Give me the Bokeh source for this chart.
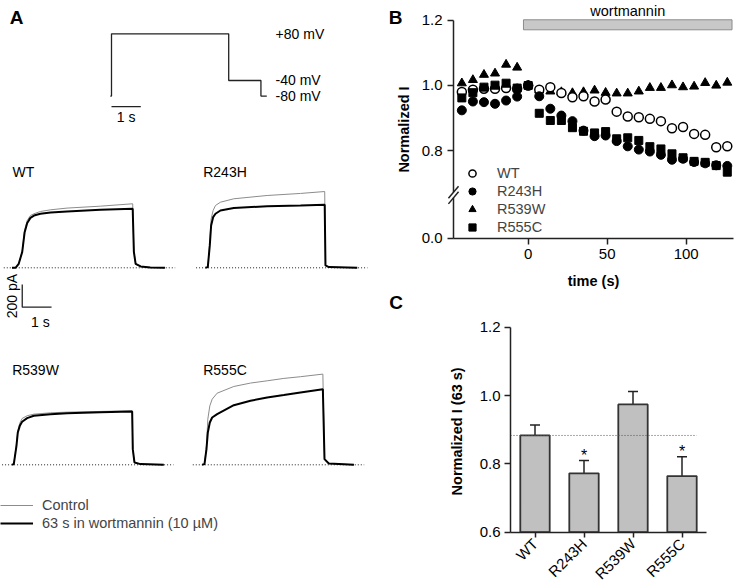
import math
from bokeh.plotting import figure
from bokeh.models import (Range1d, FixedTicker, Label, Legend, LegendItem,
                          ColumnDataSource, Whisker, TeeHead, Arrow, PrintfTickFormatter)
from bokeh.core.properties import value
from bokeh.layouts import row, column
from bokeh.embed import file_html
from bokeh.resources import INLINE

FONT = "Liberation Sans"
INK = "#222222"

# ---------------- data ----------------
# Panel A: voltage protocol (s, mV)
prot_t = [-0.04, 0.0, 0.0, 4.0, 4.0, 5.1, 5.1, 5.3]
prot_mv = [-80, -80, 80, 80, -40, -40, -80, -80]
prot_levels = [80, -40, -80]
prot_labels = ["+80 mV", "-40 mV", "-80 mV"]

# Panel A: current traces (s, pA)
baseline_t = [-0.4, 5.45]
baseline_pa = [0, 0]

wt_t = [-0.12, 0.0, 0.11, 0.23, 0.31, 0.40, 0.51, 0.63, 0.85, 1.20, 1.76, 2.90, 4.00, 4.04, 4.10, 4.27, 4.60, 5.10]
wt_ctrl = [0, 0, 35, 145, 330, 417, 461, 476, 496, 511, 526, 543, 564, 150, 35, 12, 3, 0]
wt_wort = [0, 0, 35, 140, 310, 395, 440, 460, 476, 487, 496, 511, 520, 140, 35, 12, 3, 0]

r243h_t = [-0.08, 0.0, 0.068, 0.114, 0.182, 0.262, 0.432, 0.887, 2.025, 3.163, 3.99, 4.016, 4.13, 5.10]
r243h_ctrl = [0, 6, 226, 431, 505, 549, 578, 608, 637, 655, 672, 21, 6, 0]
r243h_wort = [0, 6, 197, 373, 446, 476, 505, 526, 543, 549, 555, 21, 6, 0]

r539w_t = [-0.06, 0.0, 0.091, 0.137, 0.205, 0.284, 0.455, 0.683, 1.251, 1.82, 2.958, 4.04, 4.061, 4.118, 4.323, 5.12]
r539w_ctrl = [0, 6, 182, 299, 367, 408, 432, 446, 458, 464, 470, 476, 138, 21, 6, 0]
r539w_wort = [0, 6, 167, 285, 343, 379, 411, 432, 446, 455, 464, 470, 138, 21, 6, 0]

r555c_t = [-0.08, 0.0, 0.068, 0.114, 0.182, 0.262, 0.432, 1.001, 1.57, 2.139, 2.708, 3.276, 4.04, 4.096, 4.243, 5.10]
r555c_ctrl = [0, 6, 167, 402, 519, 578, 631, 690, 720, 740, 761, 776, 799, 50, 12, 0]
r555c_wort = [0, 6, 138, 285, 373, 417, 446, 525, 564, 593, 614, 637, 666, 50, 12, 0]

# Panel B: normalized current vs time
time_s = [-42, -35, -28, -21, -14, -7, 0, 7, 14, 21, 28, 35, 42, 49, 56, 63, 70, 77, 84, 91, 98, 105, 112, 119, 126]
norm_wt = [0.980, 0.987, 0.990, 0.990, 0.992, 0.990, 1.000, 0.987, 0.995, 0.977, 0.964, 0.967, 0.951, 0.957,
           0.920, 0.905, 0.903, 0.898, 0.891, 0.869, 0.873, 0.852, 0.849, 0.811, 0.814]
norm_r243h = [0.924, 0.951, 0.949, 0.944, 0.954, 0.966, 1.000, 0.967, 0.929, 0.908, 0.891, 0.862, 0.845, 0.847,
              0.830, 0.814, 0.804, 0.798, 0.788, 0.773, 0.776, 0.766, 0.762, 0.756, 0.754]
norm_r539w = [1.007, 1.017, 1.033, 1.037, 1.064, 1.055, 1.000, 0.985, 0.982, 0.980, 0.977, 0.980, 0.985, 0.978,
              0.976, 0.976, 0.982, 0.993, 0.993, 1.001, 0.995, 0.997, 1.008, 1.000, 1.009]
norm_r555c = [0.962, 0.978, 0.995, 1.001, 1.007, 0.992, 1.000, 0.915, 0.893, 0.893, 0.871, 0.860, 0.855, 0.859,
              0.837, 0.840, 0.832, 0.813, 0.806, 0.791, 0.779, 0.768, 0.765, 0.755, 0.735]
wort_on = -3
wort_off = 129

# Panel C: normalized current at 63 s
bar_groups = ["WT", "R243H", "R539W", "R555C"]
bar_mean = [0.883, 0.772, 0.974, 0.764]
bar_sem = [0.031, 0.038, 0.038, 0.057]
bar_sig = [False, True, False, True]


def lab(p, x, y, text, size="14px", bold=False, align="left", baseline="middle", angle=0.0,
        xr=None, yr=None, x_offset=0, y_offset=0):
    kw = {}
    if xr:
        kw["x_range_name"] = xr
    if yr:
        kw["y_range_name"] = yr
    p.add_layout(Label(x=x, y=y, text=text, text_font=FONT, text_font_size=size,
                       text_font_style="bold" if bold else "normal", text_color="black",
                       text_align=align, text_baseline=baseline, angle=angle,
                       x_offset=x_offset, y_offset=y_offset, **kw))


def no_align(p):
    if "frame_align" in p.properties():
        p.frame_align = False


# ---------------- Panel A (also holds the B / C panel letters) ----------------
pa = figure(width=412, height=587, x_range=Range1d(-3.7884, 10.273), y_range=Range1d(-1343.4, 165.6),
            x_axis_type=None, y_axis_type=None, toolbar_location=None, output_backend="svg",
            min_border=0, outline_line_color=None)
no_align(pa)
pa.extra_x_ranges = {"wt": Range1d(-0.5119, 13.5495), "r243": Range1d(-7.075, 6.9864),
                     "r539": Range1d(-0.4539, 13.6075), "r555": Range1d(-6.962, 7.0994)}
pa.extra_y_ranges = {"row1": Range1d(-2816.6, 2354.9), "row2": Range1d(-1081.0, 4090.5)}

pa.line(prot_t, prot_mv, line_color=INK, line_width=1.3)
for lvl, txt in zip(prot_levels, prot_labels):
    lab(pa, 5.6, lvl, txt, size="14px")
pa.line([0, 1], [-107, -107], line_color=INK, line_width=1.3)
lab(pa, 0.5, -133, "1 s", align="center")
lab(pa, -3.242, 121.9, "A", size="19px", bold=True, align="center")
lab(pa, 9.693, 121.9, "B", size="19px", bold=True, align="center")
lab(pa, 9.710, -610.0, "C", size="19px", bold=True, align="center")
lab(pa, 9.983, -166.0, "Normalized I", size="14.5px", bold=True, align="center", angle=math.pi / 2)

panels = [
    ("WT", "wt", "row1", wt_t, wt_ctrl, wt_wort, -0.102, 840),
    ("R243H", "r243", "row1", r243h_t, r243h_ctrl, r243h_wort, -0.157, 840),
    ("R539W", "r539", "row2", r539w_t, r539w_ctrl, r539w_wort, -0.055, 831),
    ("R555C", "r555", "row2", r555c_t, r555c_ctrl, r555c_wort, -0.044, 831),
]
legend_renderers = None
for name, xr, yr, t, c, w, lx, ly in panels:
    pa.line(baseline_t, baseline_pa, x_range_name=xr, y_range_name=yr,
            line_color=INK, line_width=1, line_dash="1 2")
    rc = pa.line(t, c, x_range_name=xr, y_range_name=yr, line_color="#8c8c8c", line_width=1)
    rw = pa.line(t, w, x_range_name=xr, y_range_name=yr, line_color="black", line_width=2)
    lab(pa, lx, ly, name, size="14px", xr=xr, yr=yr)
    if name == "R539W":
        legend_renderers = (rc, rw)

# current scale bar (200 pA, 1 s)
pa.line([0.23, 0.23, 1.23], [-147, -347, -347], x_range_name="wt", y_range_name="row1",
        line_color=INK, line_width=1.3)
lab(pa, -0.113, -250, "200 pA", align="center", angle=math.pi / 2, xr="wt", yr="row1")
lab(pa, 0.85, -479, "1 s", align="center", xr="wt", yr="row1")

leg_a = Legend(items=[LegendItem(label="Control", renderers=[legend_renderers[0]]),
                      LegendItem(label="63 s in wortmannin (10 µM)", renderers=[legend_renderers[1]])],
               location=(0, 55), glyph_width=33, glyph_height=18, label_height=18, spacing=0,
               padding=0, margin=0, label_standoff=9, border_line_color=None,
               background_fill_alpha=0, label_text_font=FONT, label_text_font_size="14.5px")
pa.add_layout(leg_a)


def style_axes(p):
    for ax in p.axis:
        ax.axis_line_color = INK
        ax.axis_line_width = 1.5
        ax.major_tick_line_color = INK
        ax.major_tick_line_width = 1.5
        ax.major_tick_out = 6
        ax.major_tick_in = 0
        ax.minor_tick_line_color = None
        ax.major_label_text_font = FONT
        ax.major_label_text_font_size = "15px"
        ax.major_label_text_color = "black"
        ax.axis_label_text_font = FONT
        ax.axis_label_text_font_size = "14.5px"
        ax.axis_label_text_font_style = "bold"
        ax.axis_label_text_color = "black"


# ---------------- Panel B ----------------
Y0_FAKE = 0.5321
B_AX = -47.28
B_XEND = 129.94
pb = figure(width=326, height=300, x_range=Range1d(-73.23, 133.10), y_range=Range1d(0.3425, 1.2599),
            toolbar_location=None, output_backend="svg", min_border=0, outline_line_color=None)
no_align(pb)
pb.grid.visible = False
style_axes(pb)
pb.xaxis.fixed_location = Y0_FAKE
pb.xaxis.ticker = FixedTicker(ticks=[0, 50, 100])
pb.xaxis.bounds = (B_AX, B_XEND)
pb.xaxis.major_label_standoff = 5
pb.yaxis.fixed_location = B_AX
pb.yaxis.ticker = FixedTicker(ticks=[Y0_FAKE, 0.8, 1.0, 1.2])
pb.yaxis.formatter = PrintfTickFormatter(format="%.1f")
pb.yaxis.major_label_overrides = {Y0_FAKE: "0.0"}
pb.yaxis.bounds = (Y0_FAKE, 1.2)
pb.yaxis.major_label_standoff = 5

pb.quad(left=[wort_on], right=[wort_off], bottom=[1.1703], top=[1.2009],
        fill_color="#c8c8c8", line_color="#8c8c8c", line_width=1)
lab(pb, (wort_on + wort_off) / 2, 1.2278, "wortmannin", size="14.5px", align="center")

r_r539 = pb.scatter(time_s, norm_r539w, marker="triangle", size=9, fill_color="black", line_color="black")
r_wt = pb.scatter(time_s, norm_wt, marker="circle", size=9, fill_color="white", line_color="black", line_width=1.5)
r_r555 = pb.scatter(time_s, norm_r555c, marker="square", size=8, fill_color="black", line_color="black")
r_r243 = pb.scatter(time_s, norm_r243h, marker="circle", size=9, fill_color="black", line_color="black")

leg_b = Legend(items=[LegendItem(label="WT", renderers=[r_wt]), LegendItem(label="R243H", renderers=[r_r243]),
                      LegendItem(label="R539W", renderers=[r_r539]), LegendItem(label="R555C", renderers=[r_r555])],
               location=(51, 64), glyph_width=18, glyph_height=18, label_height=18, spacing=0,
               padding=0, margin=0, label_standoff=16, border_line_color=None,
               background_fill_alpha=0, label_text_font=FONT, label_text_font_size="14.5px")
pb.add_layout(leg_b)

# axis break marks
brk = 0.665
gap = 0.0086
pb.add_layout(Arrow(x_start=B_AX, y_start=brk - gap, x_end=B_AX, y_end=brk + gap, start=None, end=None,
                    line_color="white", line_width=4))
for yc in (brk - gap, brk + gap):
    pb.add_layout(Arrow(x_start=B_AX - 3.2, y_start=yc - 0.0184, x_end=B_AX + 3.2, y_end=yc + 0.0184,
                        start=None, end=None, line_color=INK, line_width=1.5))

lab(pb, (B_AX + B_XEND) / 2, Y0_FAKE, "time (s)", size="14.5px", bold=True, align="center", y_offset=-43)

# ---------------- Panel C ----------------
bar_x = [i + 0.5 for i in range(len(bar_groups))]
pc = figure(width=326, height=287, x_range=Range1d(-2.0, 4.653), y_range=Range1d(0.4378, 1.2782),
            toolbar_location=None, output_backend="svg", min_border=0, outline_line_color=None)
no_align(pc)
pc.grid.visible = False
style_axes(pc)
pc.yaxis.fixed_location = 0
pc.yaxis.ticker = FixedTicker(ticks=[0.6, 0.8, 1.0, 1.2])
pc.yaxis.formatter = PrintfTickFormatter(format="%.1f")
pc.yaxis.bounds = (0.6, 1.2)
pc.yaxis.major_label_standoff = 4
pc.xaxis.fixed_location = 0.6
pc.xaxis.bounds = (0, len(bar_groups))
pc.xaxis.ticker = FixedTicker(ticks=bar_x)
pc.xaxis.major_label_overrides = {x: g for x, g in zip(bar_x, bar_groups)}
pc.xaxis.major_tick_out = 5
pc.xaxis.major_label_orientation = math.pi / 4
pc.xaxis.major_label_standoff = 4

upper = [m + s for m, s in zip(bar_mean, bar_sem)]
src = ColumnDataSource(dict(x=bar_x, mean=bar_mean, upper=upper))
pc.add_layout(Whisker(source=src, base="x", upper="upper", lower="mean", dimension="height",
                      line_color=INK, line_width=1.5,
                      upper_head=TeeHead(size=10, line_color=INK, line_width=1.5), lower_head=None))
pc.vbar(x="x", top="mean", bottom=0.6, width=0.6, source=src, fill_color="#c0c0c0",
        line_color="#333333", line_width=1.8)
pc.line([0, len(bar_groups) - 0.2], [bar_mean[0], bar_mean[0]], line_color="#555555",
        line_width=1, line_dash="1 2")
sig_x = [x for x, s in zip(bar_x, bar_sig) if s]
sig_y = [u for u, s in zip(upper, bar_sig) if s]
pc.text(x=sig_x, y=sig_y, text=["*"] * len(sig_x), text_font=value(FONT), text_font_size="16px",
        text_align="center", text_baseline="alphabetic", y_offset=-5, text_color="black")
lab(pc, -1.102, 0.895, "Normalized I (63 s)", size="14.5px", bold=True, align="center", angle=math.pi / 2)

layout = row(pa, column(pb, pc))
open("out.html", "w").write(file_html(layout, INLINE))
